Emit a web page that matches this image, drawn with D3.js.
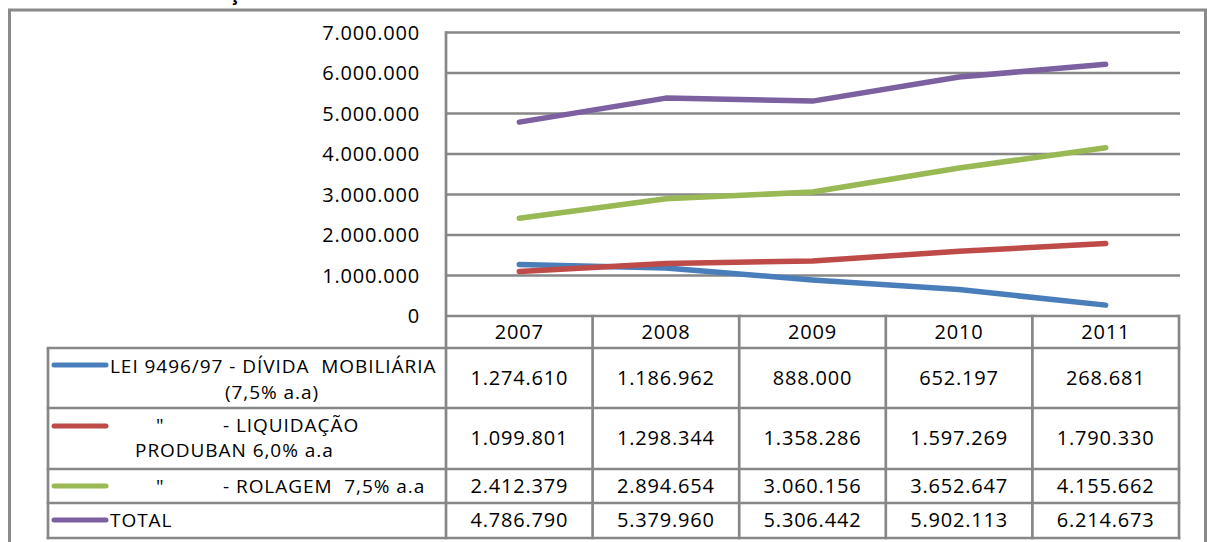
<!DOCTYPE html>
<html>
<head>
<meta charset="utf-8">
<script src="https://cdn.jsdelivr.net/npm/d3@7"></script>
<style>
  html, body { margin: 0; padding: 0; background: #fff; }
  svg { display: block; }
  text { font-family: "Open Sans", "Noto Sans", sans-serif; fill: #000; }
</style>
</head>
<body>
<svg id="chart" width="1207" height="542"></svg>
<script>
// ---- data ----
const years = ["2007", "2008", "2009", "2010", "2011"];
const divida   = [1274610, 1186962, 888000, 652197, 268681];
const liquid   = [1099801, 1298344, 1358286, 1597269, 1790330];
const rolagem  = [2412379, 2894654, 3060156, 3652647, 4155662];
const total    = [4786790, 5379960, 5306442, 5902113, 6214673];
const seriesLabels = [
  ["LEI 9496/97 - DÍVIDA\u00A0 MOBILIÁRIA", "(7,5% a.a)"],
  ["\"|- LIQUIDAÇÃO", "PRODUBAN 6,0% a.a"],
  ["\"|- ROLAGEM\u00A0 7,5% a.a"],
  ["TOTAL"]
];
const seriesColors = ["#4A7EBB", "#BE4B48", "#98B954", "#7D60A0"];
const yTicks = [0, 1000000, 2000000, 3000000, 4000000, 5000000, 6000000, 7000000];
const titleText = "EVOLUÇÃO";

const seriesValues = [divida, liquid, rolagem, total];

// ---- layout ----
const svg = d3.select("#chart");
const grid = "#878787";
const plotTop = 32.5, plotBottom = 316, plotLeft = 446, plotRight = 1179;
const rowBounds = [316, 348, 408, 469, 503, 538];
const legendLeft = 48;
const fs = 20, ls = 0.8;

const loc = d3.formatLocale({decimal: ",", thousands: ".", grouping: [3], currency: ["", ""]});
const fmt = loc.format(",d");

const x = d3.scaleBand().domain(years).range([plotLeft, plotRight]).padding(0);
const y = d3.scaleLinear().domain([0, 7000000]).range([plotBottom, plotTop]);

// outer frame
svg.append("rect").attr("x", 9.5).attr("y", 10).attr("width", 1196).attr("height", 545)
  .attr("fill", "none").attr("stroke", "#8a8a8a").attr("stroke-width", 3);

// clipped title (only cedilla visible, as in the reference)
svg.append("text").attr("x", 268).attr("y", 0).attr("text-anchor", "end")
  .attr("font-size", 19).attr("font-weight", "bold").text(titleText);

// gridlines
svg.append("g").selectAll("line").data(yTicks).join("line")
  .attr("x1", plotLeft).attr("x2", plotRight + 1)
  .attr("y1", d => y(d)).attr("y2", d => y(d))
  .attr("stroke", grid).attr("stroke-width", 2.7);

// y axis labels
const yAxis = d3.axisLeft(y).tickValues(yTicks).tickFormat(fmt).tickSize(0).tickPadding(26);
const yg = svg.append("g").attr("transform", `translate(${plotLeft},0)`).call(yAxis);
yg.select(".domain").remove();
yg.selectAll("text").attr("font-size", fs).attr("letter-spacing", ls)
  .attr("font-family", "'Open Sans', sans-serif").attr("fill", "#000").attr("dy", "0.34em");

// table lines
const tbl = svg.append("g").attr("stroke", grid).attr("stroke-width", 2.7).attr("fill", "none");
tbl.append("line").attr("x1", plotLeft).attr("x2", plotLeft).attr("y1", plotTop - 1.3).attr("y2", rowBounds[5] + 1.3);
tbl.append("line").attr("x1", legendLeft).attr("x2", legendLeft).attr("y1", rowBounds[1]).attr("y2", rowBounds[5] + 1.3);
years.forEach(yr => {
  const xr = x(yr) + x.bandwidth();
  tbl.append("line").attr("x1", xr).attr("x2", xr).attr("y1", rowBounds[0] - 1.3).attr("y2", rowBounds[5] + 1.3);
});
rowBounds.slice(1).forEach(rb => {
  tbl.append("line").attr("x1", legendLeft - 1.3).attr("x2", plotRight + 1.3).attr("y1", rb).attr("y2", rb);
});

// header years
svg.append("g").selectAll("text").data(years).join("text")
  .attr("x", d => x(d) + x.bandwidth() / 2).attr("y", (rowBounds[0] + rowBounds[1]) / 2)
  .attr("dy", "0.34em").attr("text-anchor", "middle").attr("font-size", fs).attr("letter-spacing", ls)
  .text(d => d);

// value cells
seriesValues.forEach((vals, i) => {
  const cy = (rowBounds[i + 1] + rowBounds[i + 2]) / 2;
  svg.append("g").selectAll("text").data(vals).join("text")
    .attr("x", (d, j) => x(years[j]) + x.bandwidth() / 2).attr("y", cy)
    .attr("dy", "0.34em").attr("text-anchor", "middle").attr("font-size", fs).attr("letter-spacing", ls)
    .text(d => fmt(d));
});

// lines
const line = d3.line().x((d, j) => x(years[j]) + x.bandwidth() / 2).y(d => y(d));
seriesValues.forEach((vals, i) => {
  svg.append("path").datum(vals).attr("d", line)
    .attr("fill", "none").attr("stroke", seriesColors[i]).attr("stroke-width", 5.5)
    .attr("stroke-linecap", "round").attr("stroke-linejoin", "round");
});

// legend column
const swatchY = [365, 426, 486, 520];
const lineBase = [[373, 399], [432, 457], [493], [527]];
const lls = 0.95;
seriesLabels.forEach((lines, i) => {
  svg.append("line").attr("x1", 54).attr("x2", 106).attr("y1", swatchY[i]).attr("y2", swatchY[i])
    .attr("stroke", seriesColors[i]).attr("stroke-width", 5).attr("stroke-linecap", "round");
  lines.forEach((ln, k) => {
    const by = lineBase[i][k];
    if (ln.includes("|")) {
      const parts = ln.split("|");
      svg.append("text").attr("x", 156).attr("y", by).attr("font-size", 19).text(parts[0]);
      svg.append("text").attr("x", 223).attr("y", by).attr("font-size", 19).attr("letter-spacing", lls).text(parts[1]);
    } else if (i === 0 && k === 1) {
      svg.append("text").attr("x", 272).attr("y", by).attr("text-anchor", "middle").attr("font-size", 19)
        .attr("letter-spacing", lls).text(ln);
    } else if (i === 1 && k === 1) {
      svg.append("text").attr("x", 135).attr("y", by).attr("font-size", 19).attr("letter-spacing", lls).text(ln);
    } else {
      svg.append("text").attr("x", 110).attr("y", by).attr("font-size", 19).attr("letter-spacing", lls).text(ln);
    }
  });
});
</script>
</body>
</html>
